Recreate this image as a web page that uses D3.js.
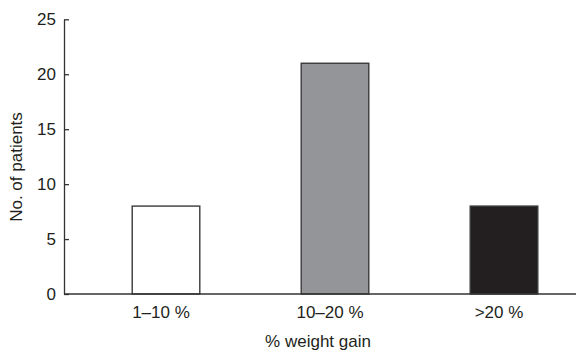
<!DOCTYPE html>
<html><head><meta charset="utf-8">
<script src="https://cdn.jsdelivr.net/npm/d3@7"></script>
<style>
body{margin:0;background:#fff;}
text{font-family:"Liberation Sans",Arial,sans-serif;fill:#231f20;}
</style></head>
<body><svg id="c" width="576" height="353"></svg>
<script>
const categories = ["1–10 %", "10–20 %", ">20 %"];
const values = [8, 21, 8];
const fills = ["#ffffff", "#939598", "#231f20"];
const yTicks = [0, 5, 10, 15, 20, 25];

const svg = d3.select("#c");
const x0 = 64, x1 = 576, yTop = 19.3, yBot = 294;
const y = d3.scaleLinear().domain([0, 25]).range([yBot, yTop]);
const x = d3.scaleBand().domain(categories).range([81.5, 588.5]).paddingInner(0.6).paddingOuter(0.3);

// bars
svg.selectAll("rect.bar").data(categories).enter().append("rect")
  .attr("class","bar")
  .attr("x", d => x(d))
  .attr("width", x.bandwidth())
  .attr("y", (d,i) => y(values[i]))
  .attr("height", (d,i) => yBot - y(values[i]))
  .attr("fill", (d,i) => fills[i])
  .attr("stroke", "#3a3a3a")
  .attr("stroke-width", 1.4);

// y axis
const yAxis = d3.axisLeft(y).tickValues(yTicks).tickSizeInner(-5).tickSizeOuter(0).tickPadding(8);
const gy = svg.append("g").attr("transform", `translate(${x0},0)`).call(yAxis);
gy.select(".domain").attr("stroke", "#333").attr("stroke-width", 1.3);
gy.selectAll(".tick line").attr("stroke", "#333").attr("stroke-width", 1.3);
gy.selectAll(".tick text").attr("font-size", 17).attr("fill", "#231f20")
  .attr("font-family", '"Liberation Sans",Arial,sans-serif');

// x axis line
svg.append("line").attr("x1", x0).attr("x2", x1).attr("y1", yBot).attr("y2", yBot)
  .attr("stroke", "#333").attr("stroke-width", 1.3);

// x tick labels
svg.selectAll("text.xl").data(categories).enter().append("text")
  .attr("class","xl")
  .attr("x", d => x(d) + x.bandwidth()/2 - 5)
  .attr("y", 318)
  .attr("text-anchor","middle")
  .attr("font-size", 17)
  .text(d => d);

// axis titles
svg.append("text").attr("x", 318).attr("y", 347).attr("text-anchor","middle")
  .attr("font-size", 17).text("% weight gain");
svg.append("text").attr("transform", "translate(22,167) rotate(-90)")
  .attr("text-anchor","middle").attr("font-size", 17).text("No. of patients");
</script></body></html>
